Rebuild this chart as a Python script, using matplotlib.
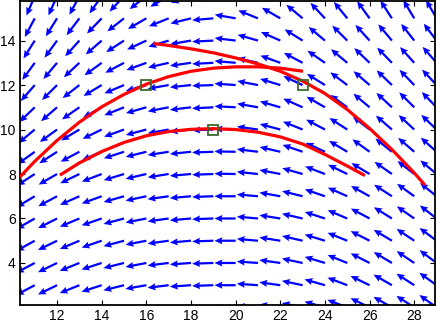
import numpy as np
import matplotlib
matplotlib.use("Agg")
import matplotlib.pyplot as plt

# grid of arrow tails
x_grid = [11, 12, 13, 14, 15, 16, 17, 18, 19, 20, 21, 22, 23, 24, 25, 26, 27, 28, 29]
y_grid = [16, 15, 14, 13, 12, 11, 10, 9, 8, 7, 6, 5, 4, 3, 2]

# arrow tilt (degrees) of the left-pointing arrows, + = up, - = down ; rows follow y_grid
tilt_deg = [
    [-67, -66, -62, -55, -47, -38, -30, -18, -7, 12, 25, 35, 45, 52, 56, 59, 61, 63, 64],
    [-62, -58, -53, -46, -38, -30, -22, -14, -5, 10, 22, 30, 40, 47, 51, 54, 57, 59, 60],
    [-58, -54, -48, -41, -33, -25, -17, -10, -3, 7, 16, 24, 32, 40, 45, 48, 50, 52, 53],
    [-54, -50, -43, -36, -28, -20, -13, -8, -3, 5, 13, 20, 28, 35, 40, 44, 46, 48, 49],
    [-49, -45, -38, -31, -23, -16, -10, -6, -2, 4, 11, 17, 25, 32, 37, 41, 44, 46, 47],
    [-44, -41, -35, -29, -22, -16, -11, -7, -3, 3, 10, 16, 24, 30, 36, 40, 43, 45, 46],
    [-40, -36, -31, -26, -20, -15, -10, -6, -2, 2, 8, 15, 22, 28, 33, 38, 41, 43, 44],
    [-36, -33, -28, -23, -18, -14, -9, -6, -2, 1, 7, 13, 19, 25, 31, 36, 39, 41, 42],
    [-33, -30, -26, -21, -17, -13, -9, -5, -2, 1, 6, 11, 16, 21, 26, 31, 35, 38, 40],
    [-31, -28, -24, -20, -16, -12, -8, -5, -2, 0, 5, 10, 14, 19, 24, 29, 33, 36, 39],
    [-30, -27, -23, -19, -15, -11, -8, -5, -2, 0, 5, 9, 13, 18, 23, 28, 32, 35, 38],
    [-29, -26, -23, -19, -15, -11, -8, -5, -2, 0, 5, 9, 13, 17, 22, 27, 31, 34, 37],
    [-28, -26, -22, -18, -14, -11, -7, -4, -2, 0, 4, 8, 12, 17, 22, 27, 31, 34, 37],
    [-28, -26, -22, -18, -14, -10, -7, -4, -2, 0, 4, 8, 12, 16, 21, 26, 30, 33, 36],
    [-28, -26, -22, -18, -14, -10, -7, -4, -2, 0, 4, 8, 12, 16, 21, 26, 30, 33, 36],
]
arrow_len = 0.95

# red curves
curveA_x = [10.34, 11, 12, 13, 14, 15, 16, 17, 18, 19, 20, 21, 22, 23.02]
curveA_y = [7.87, 8.57, 9.51, 10.33, 11.02, 11.58, 12.04, 12.38, 12.62, 12.76, 12.82, 12.82, 12.76, 12.62]
curveB_x = [16.31, 17, 18, 19, 20, 21, 22, 23, 24, 25, 26, 27, 28, 28.48]
curveB_y = [13.87, 13.78, 13.63, 13.45, 13.22, 12.95, 12.62, 12.18, 11.62, 10.9, 10.05, 9.1, 8.05, 7.5]
curveC_x = [12.13, 13, 14, 15, 16, 17, 18, 19, 20, 21, 22, 23, 24, 25, 25.79]
curveC_y = [7.95, 8.50, 9.01, 9.42, 9.72, 9.91, 10.01, 10.04, 10.0, 9.88, 9.67, 9.35, 8.88, 8.36, 7.93]

# square markers
sq_x = [16, 23, 19]
sq_y = [12, 12, 10]

x_ticks = [12, 14, 16, 18, 20, 22, 24, 26, 28]
y_ticks = [4, 6, 8, 10, 12, 14]

plt.rcParams['font.family'] = ['Liberation Sans', 'DejaVu Sans']

fig = plt.figure(figsize=(4.36, 3.24), dpi=100)
ax = fig.add_axes([20 / 436, 19 / 324, 415 / 436, 304 / 324])

X, Y = np.meshgrid(np.array(x_grid, float), np.array(y_grid, float))
phi = np.deg2rad(np.array(tilt_deg, float))
U = -arrow_len * np.cos(phi)
V = arrow_len * np.sin(phi)

ax.quiver(X, Y, U, V, angles='xy', scale_units='xy', scale=1, units='xy',
          width=0.1, headwidth=3.2, headlength=3.6, headaxislength=3.2,
          color='#0000ff', zorder=2)

for cx, cy in [(curveA_x, curveA_y), (curveB_x, curveB_y), (curveC_x, curveC_y)]:
    ax.plot(cx, cy, color='#ff0000', lw=2.3, zorder=3, solid_capstyle='butt',
            solid_joinstyle='round')

ax.plot(sq_x, sq_y, linestyle='none', marker='s', markersize=7.5,
        markerfacecolor='none', markeredgecolor='#3a6a30', markeredgewidth=1.3, zorder=4)

ax.set_xlim(10.34, 28.93)
ax.set_ylim(2.11, 15.78)
ax.set_xticks(x_ticks)
ax.set_yticks(y_ticks)
ax.tick_params(direction='in', length=3.5, width=0.8, top=True, right=True,
               labelsize=10, pad=3)
for s in ax.spines.values():
    s.set_linewidth(1.3)

fig.savefig('out.png', dpi=100)
